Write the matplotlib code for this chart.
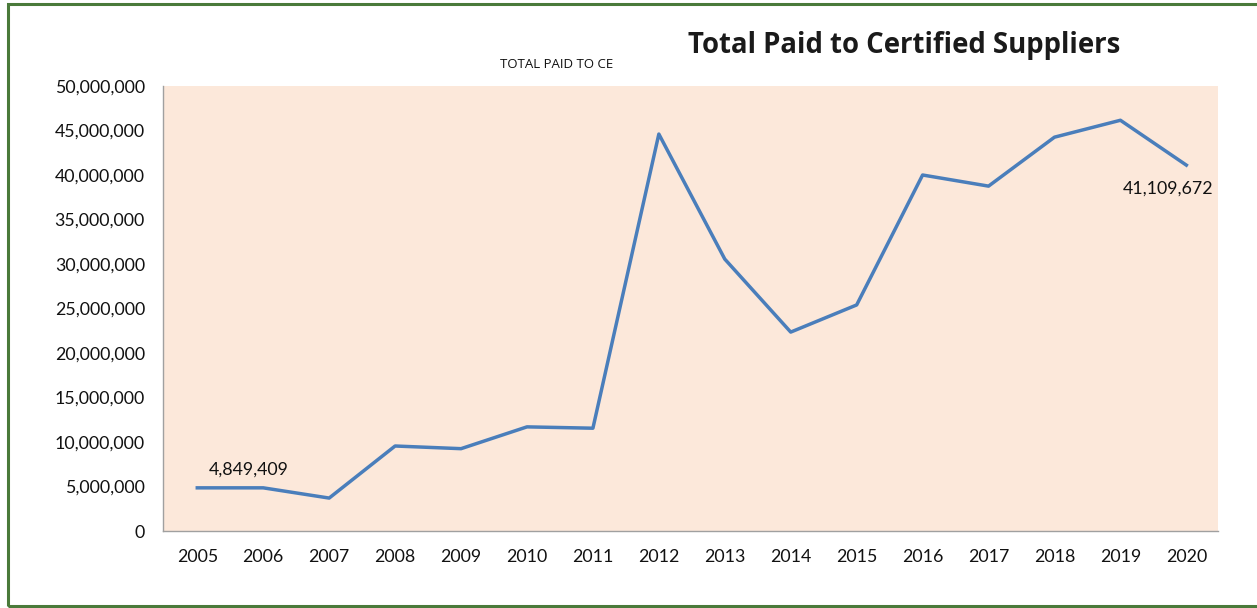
import matplotlib.pyplot as plt
from matplotlib.patches import Rectangle
from matplotlib.ticker import FuncFormatter

# values
years = [2005, 2006, 2007, 2008, 2009, 2010, 2011, 2012,
         2013, 2014, 2015, 2016, 2017, 2018, 2019, 2020]
paid = [4849409, 4850000, 3700000, 9550000, 9250000, 11700000, 11550000, 44600000,
        30550000, 22350000, 25400000, 40000000, 38750000, 44250000, 46150000, 41109672]
y_ticks = list(range(0, 50000001, 5000000))

plt.rcParams['font.family'] = ['Lato', 'DejaVu Sans']

fig = plt.figure(figsize=(12.57, 6.08), dpi=100)
ax = fig.add_axes([163 / 1257, 1 - 531 / 608, (1218 - 163) / 1257, (531 - 86) / 608])

ax.set_facecolor('#fce8da')
ax.plot(range(len(years)), paid, color='#4a7ebb', lw=2.5)
ax.set_xlim(-0.52, len(years) - 0.52)
ax.set_ylim(0, 50000000)
ax.set_xticks(range(len(years)))
ax.set_xticklabels([str(y) for y in years])
ax.set_yticks(y_ticks)
ax.yaxis.set_major_formatter(FuncFormatter(lambda v, p: f'{int(v):,}'))
ax.tick_params(length=0, labelsize=12.8, colors='#111111')
ax.tick_params(axis='x', pad=13)
ax.tick_params(axis='y', pad=13)
for s in ['top', 'right']:
    ax.spines[s].set_visible(False)
for s in ['left', 'bottom']:
    ax.spines[s].set_color('#a0a0a0')
    ax.spines[s].set_linewidth(1.0)

# data labels for first and last points
ax.annotate(f'{paid[0]:,}', (0, paid[0]), xytext=(8, 7), textcoords='offset points',
            fontsize=12.8, color='#111111', ha='left', va='bottom')
ax.annotate(f'{paid[-1]:,}', (len(years) - 1, paid[-1]), xytext=(-13, -11), textcoords='offset points',
            fontsize=12.8, color='#111111', ha='center', va='top')

fig.text(500 / 1257, 1 - 64 / 608, 'TOTAL PAID TO CE', fontsize=9.5, ha='left', va='center',
         color='#111111', family=['Open Sans', 'DejaVu Sans'])
fig.text(904 / 1257, 1 - 46 / 608, 'Total Paid to Certified Suppliers', fontsize=19.8,
         fontweight='bold', ha='center', va='center', color='#1a1a1a',
         family=['Open Sans', 'DejaVu Sans'])

# green frame around the whole graphic
fig.patches.append(Rectangle((8 / 1257, 2 / 608), 1.2, 1 - 6 / 608, transform=fig.transFigure,
                             fill=False, edgecolor='#4a7a3a', lw=2.2))

fig.savefig('out.png', dpi=100)
